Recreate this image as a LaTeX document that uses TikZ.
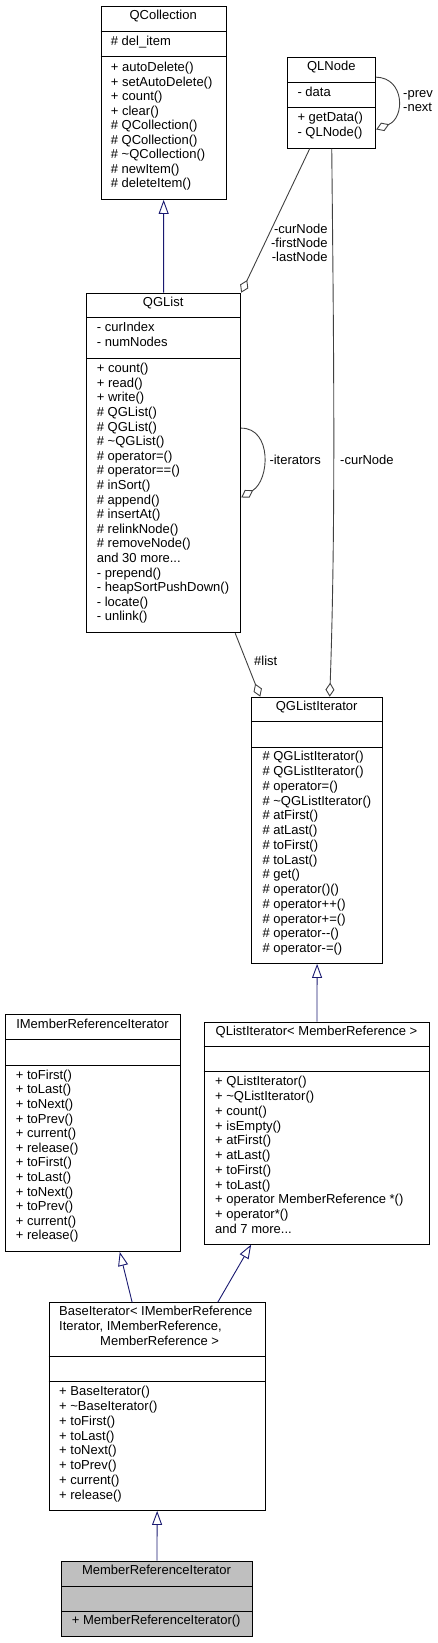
\documentclass[tikz,border=0pt]{standalone}
\usepackage{fontspec}
\setmainfont{Liberation Sans}
\usetikzlibrary{arrows.meta}
\definecolor{inh}{HTML}{191970}
\definecolor{usg}{HTML}{404040}
\definecolor{hl}{HTML}{BFBFBF}
\tikzset{
 box/.style={draw=black, line width=0.9pt, inner sep=0pt, anchor=north west},
 sep/.style={draw=black, line width=0.9pt},
 txt/.style={font=\fontsize{13}{15}\selectfont, inner sep=0pt, anchor=mid west},
 ttl/.style={font=\fontsize{13}{15}\selectfont, inner sep=0pt, anchor=mid},
 lbl/.style={font=\fontsize{13}{15}\selectfont, inner sep=0pt},
 inherit/.style={draw=inh, line width=0.9pt, -{Triangle[open, length=14pt, width=10pt, fill=white]}},
 usage/.style={draw=usg, line width=0.9pt, -{Diamond[open, length=14pt, width=9pt, fill=white]}},
}
\newcommand\mlines[5]{\foreach \mtxt [count=\i] in {#5} {\node[txt] (#1\i) at ({#2},{#3+(\i-1)*#4}) {\mtxt};}}
\newcommand\hseps[3]{\draw[sep] ([yshift=-#2pt]#1.north west) -- ([yshift=-#2pt]#1.north east);
 \draw[sep] ([yshift=-#3pt]#1.north west) -- ([yshift=-#3pt]#1.north east);}
\begin{document}
\begin{tikzpicture}[x=1pt,y=-1pt]
\useasboundingbox (0,0) rectangle (438,1643);
% boxes
\node[box, minimum width=125pt, minimum height=193.3pt] (qcol) at (100.7,5.7) {};
\node[box, minimum width=88pt, minimum height=90.4pt] (qln) at (287.3,57.3) {};
\node[box, minimum width=154.3pt, minimum height=339.6pt] (qgl) at (86,292.7) {};
\node[box, minimum width=130.7pt, minimum height=266.3pt] (qgli) at (251.3,696.7) {};
\node[box, minimum width=175pt, minimum height=237pt] (imri) at (5,1014) {};
\node[box, minimum width=225.6pt, minimum height=222pt] (qli) at (203.7,1021.7) {};
\node[box, minimum width=216pt, minimum height=207.7pt] (base) at (48.7,1302.3) {};
\node[box, fill=hl, minimum width=191pt, minimum height=75.3pt] (mri) at (61,1560.7) {};
\hseps{qcol}{26}{51}
\hseps{qln}{25}{50.4}
\hseps{qgl}{25}{65.6}
\hseps{qgli}{25}{50.6}
\hseps{imri}{25.3}{51}
\hseps{qli}{25}{50}
\hseps{base}{54.4}{79.4}
\hseps{mri}{25.3}{50.3}
% QCollection
\node[ttl] (qcolt) at (163.2,16.7) {QCollection};
\node[txt] (qcola) at (110.7,42.7) {\# del\_item};
\mlines{qcolm}{110.7}{69}{14.54}{+ autoDelete(), + setAutoDelete(), + count(), + clear(), \# QCollection(), \# QCollection(), \# \textasciitilde QCollection(), \# newItem(), \# deleteItem()}
% QLNode
\node[ttl] (qlnt) at (331.3,68.3) {QLNode};
\node[txt] (qlna) at (297.3,94.3) {- data};
\mlines{qlnm}{297.3}{119.3}{15}{+ getData(), - QLNode()}
% QGList
\node[ttl] (qglt) at (163.2,304.3) {QGList};
\mlines{qgla}{96.7}{329.3}{15}{- curIndex, - numNodes}
\mlines{qglm}{96.7}{370}{14.6}{+ count(), + read(), + write(), \# QGList(), \# QGList(), \# \textasciitilde QGList(), \# operator=(), \# operator==(), \# inSort(), \# append(), \# insertAt(), \# relinkNode(), \# removeNode(), and 30 more.{}.{}., - prepend(), - heapSortPushDown(), - locate(), - unlink()}
% QGListIterator
\node[ttl] (qglit) at (316.7,708.3) {QGListIterator};
\mlines{qglim}{262.3}{758.3}{14.75}{\# QGListIterator(), \# QGListIterator(), \# operator=(), \# \textasciitilde QGListIterator(), \# atFirst(), \# atLast(), \# toFirst(), \# toLast(), \# get(), \# operator()(), \# operator++(), \# operator+=(), \# operator{-}{-}(), \# operator-=()}
% IMemberReferenceIterator
\node[ttl] (imrit) at (92.5,1025.7) {IMemberReferenceIterator};
\mlines{imrim}{15.7}{1076.7}{14.6}{+ toFirst(), + toLast(), + toNext(), + toPrev(), + current(), + release(), + toFirst(), + toLast(), + toNext(), + toPrev(), + current(), + release()}
% QListIterator
\node[ttl] (qlit) at (316.5,1032.7) {QListIterator< MemberReference >};
\mlines{qlim}{215}{1083.3}{14.74}{+ QListIterator(), + \textasciitilde QListIterator(), + count(), + isEmpty(), + atFirst(), + atLast(), + toFirst(), + toLast(), + operator MemberReference *(), + operator*(), and 7 more.{}.{}.}
% BaseIterator
\node[txt] (baset1) at (59,1313.3) {BaseIterator< IMemberReference};
\node[txt] (baset2) at (59,1328.3) {Iterator, IMemberReference,};
\node[txt] (baset3) at (100,1342.7) {MemberReference >};
\mlines{basem}{59}{1393.3}{14.76}{+ BaseIterator(), + \textasciitilde BaseIterator(), + toFirst(), + toLast(), + toNext(), + toPrev(), + current(), + release()}
% MemberReferenceIterator
\node[ttl] (mrit) at (156.5,1572.3) {MemberReferenceIterator};
\node[txt] (mrim) at (71.7,1622.3) {+ MemberReferenceIterator()};
% inheritance
\draw[inherit] (qgl.north) -- (qcol.south);
\draw[inherit] (qli.north) -- (qgli.south);
\draw[inherit] ([xshift=-25pt]base.north) -- ([xshift=26.8pt]imri.south);
\draw[inherit] ([xshift=60.6pt]base.north) -- ([xshift=-65.8pt]qli.south);
\draw[inherit] (mri.north) -- (base.south);
% usage
\draw[usage] ([xshift=-22pt]qln.south) -- (qgl.north east);
\draw[usage] (qln.south) .. controls (333.5,330) and (336,520) .. ([xshift=12.6pt]qgli.north);
\draw[usage] ([xshift=-6pt]qgl.south east) -- ([xshift=9pt]qgli.north west);
\draw[usage] ([yshift=34.8pt]qgl.east) .. controls (272,428) and (270,480) .. ([yshift=-34.5pt]qgl.east);
\draw[usage] ([yshift=25.8pt]qln.east) .. controls (405,78) and (405,118) .. ([yshift=-26.5pt]qln.east);
% labels
\node[lbl, anchor=mid east] (l1) at (327.7,230.7) {-curNode};
\node[lbl, anchor=mid east] (l2) at (327.7,245) {-firstNode};
\node[lbl, anchor=mid east] (l3) at (327.7,259.3) {-lastNode};
\node[lbl, anchor=mid west] (l4) at (269.3,461.7) {-iterators};
\node[lbl, anchor=mid west] (l5) at (340,461.7) {-curNode};
\node[lbl, anchor=mid west] (l6) at (254,663.3) {\#list};
\node[lbl, anchor=mid west] (l7) at (403,95) {-prev};
\node[lbl, anchor=mid west] (l8) at (403,109) {-next};
\end{tikzpicture}
\end{document}
